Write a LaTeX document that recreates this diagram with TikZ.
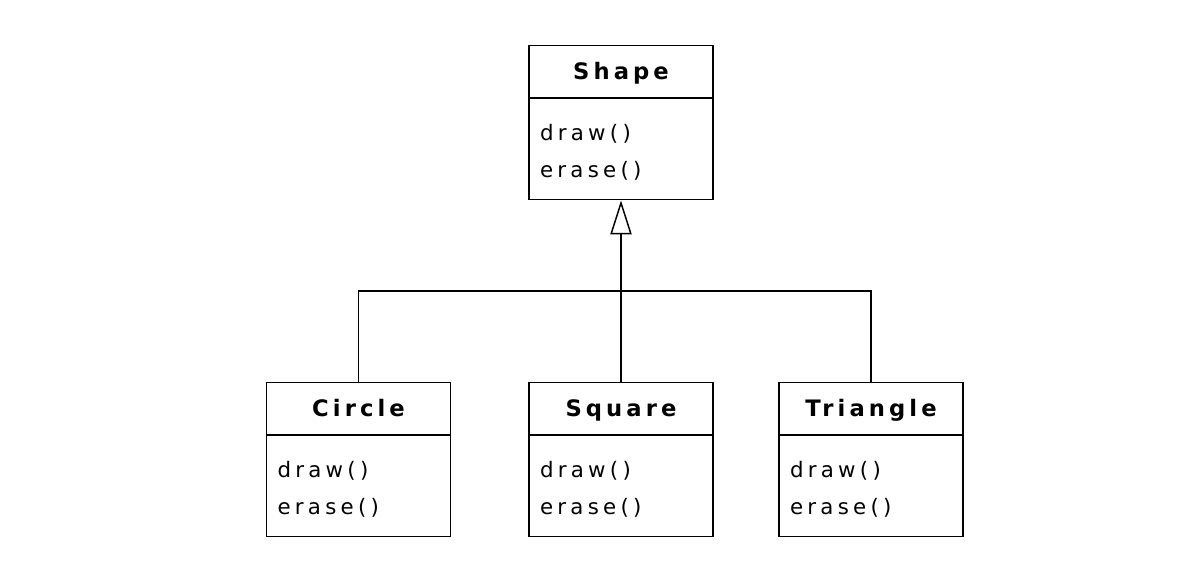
\documentclass[tikz,border=0pt]{standalone}
\usepackage{fontspec}
\usetikzlibrary{arrows.meta}
\newfontfamily\umlfont{DejaVu Sans}[LetterSpace=20]
\newfontfamily\umlheadfont{DejaVu Sans Bold}[LetterSpace=18]
\begin{document}
\begin{tikzpicture}[x=0.75pt,y=-0.75pt,
  line width=1.1pt,
  classhead/.style={draw, rectangle, minimum width=138pt, minimum height=39pt,
    inner sep=0pt, text height=12.5pt, text depth=0pt, anchor=south,
    font=\umlheadfont\fontsize{17}{20}\selectfont},
  classbody/.style={draw, rectangle, minimum width=138pt, minimum height=75.75pt,
    inner xsep=8.25pt, inner ysep=0pt, text width=121.5pt,
    text height=12pt, text depth=25pt,
    align=left, anchor=north, font=\umlfont\fontsize{16}{27.75}\selectfont},
  inherits/.style={-{Triangle[open, length=25.5pt, width=16pt]}}]
  \useasboundingbox (0,0) rectangle (1202,570);
  % superclass
  \node[classhead] (shapeh) at (621,98) {Shape};
  \node[classbody] (shapeb) at (621,98) {draw()\\erase()};
  % subclasses
  \node[classhead] (circleh) at (358.5,435) {Circle};
  \node[classbody] (circleb) at (358.5,435) {draw()\\erase()};
  \node[classhead] (squareh) at (621,435) {Square};
  \node[classbody] (squareb) at (621,435) {draw()\\erase()};
  \node[classhead] (triangleh) at (871,435) {Triangle};
  \node[classbody] (triangleb) at (871,435) {draw()\\erase()};
  % generalization tree
  \coordinate (bus) at (621,291);
  \draw (circleh.north) |- (bus) -| (triangleh.north);
  \draw[inherits] (squareh.north) -- (shapeb.south);
\end{tikzpicture}
\end{document}
